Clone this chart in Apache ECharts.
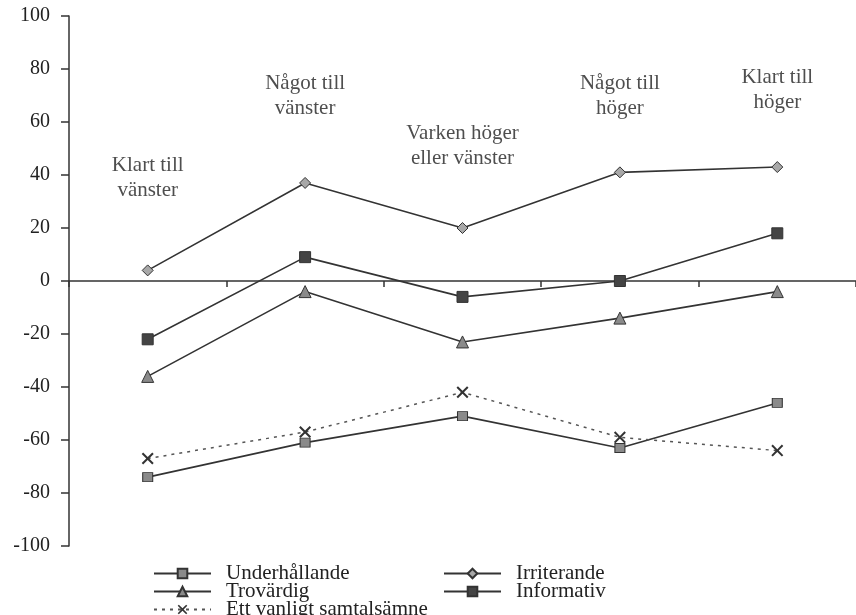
<!DOCTYPE html>
<html>
<head>
<meta charset="utf-8">
<script src="https://cdn.jsdelivr.net/npm/echarts@6/dist/echarts.min.js"></script>
<style>html,body{margin:0;padding:0;background:#fff;}#c{width:856px;height:615px;}</style>
</head>
<body>
<div id="c"></div>
<script>
const categories = ['Klart till\nvänster', 'Något till\nvänster', 'Varken höger\neller vänster', 'Något till\nhöger', 'Klart till\nhöger'];
const yTicks = [-100, -80, -60, -40, -20, 0, 20, 40, 60, 80, 100];
const underhallande = [-74, -61, -51, -63, -46];
const irriterande = [4, 37, 20, 41, 43];
const trovardig = [-36, -4, -23, -14, -4];
const informativ = [-22, 9, -6, 0, 18];
const vanligt = [-67, -57, -42, -59, -64];
const seriesNames = ['Underhållande', 'Irriterande', 'Trovärdig', 'Informativ', 'Ett vanligt samtalsämne'];

const chart = echarts.init(document.getElementById('c'), null, {renderer: 'canvas'});
const font = 'Liberation Serif';
const labelPos = [39, 70, 51, 70, 72];
const xPath = 'path://M0,1.2 L1.2,0 L5,3.8 L8.8,0 L10,1.2 L6.2,5 L10,8.8 L8.8,10 L5,6.2 L1.2,10 L0,8.8 L3.8,5 Z';

function lineSeries(name, data, symbol, size, fill, dashed) {
  return {
    name, type: 'line', data, symbol, symbolSize: size,
    lineStyle: {color: dashed ? '#555' : '#333', width: dashed ? 1.5 : 1.6, type: dashed ? [3, 5] : 'solid'},
    itemStyle: {color: fill, borderColor: dashed ? fill : '#333', borderWidth: dashed ? 0 : 1},
    emphasis: {disabled: true}, z: 3
  };
}

function legendItem(name, left, top) {
  return {
    data: [name], left, top, itemWidth: 57, itemHeight: 12, itemGap: 0,
    selectedMode: false, padding: 0,
    textStyle: {fontFamily: font, fontSize: 21, color: '#222', lineHeight: 18, padding: [0, 0, 0, 10]}
  };
}

chart.setOption({
  animation: false,
  backgroundColor: '#fff',
  grid: {left: 69, top: 16, width: 790, height: 530, containLabel: false},
  xAxis: {
    type: 'category', data: categories, boundaryGap: true,
    axisLine: {show: true, onZero: true, lineStyle: {color: '#333', width: 1.5}},
    axisTick: {show: true, length: 6, lineStyle: {color: '#333', width: 1.5}},
    axisLabel: {show: false}, splitLine: {show: false}
  },
  yAxis: {
    type: 'value', min: yTicks[0], max: yTicks[yTicks.length - 1], interval: 20,
    axisLine: {show: true, lineStyle: {color: '#333', width: 1.5}},
    axisTick: {show: true, length: 8, lineStyle: {color: '#333', width: 1.5}},
    axisLabel: {fontFamily: font, fontSize: 20, color: '#222', margin: 19},
    splitLine: {show: false}
  },
  legend: [
    legendItem(seriesNames[0], 153, 563),
    legendItem(seriesNames[2], 153, 581),
    legendItem(seriesNames[4], 153, 599),
    legendItem(seriesNames[1], 443, 563),
    legendItem(seriesNames[3], 443, 581)
  ],
  series: [
    lineSeries(seriesNames[0], underhallande, 'rect', [10, 9], '#8a8a8a', false),
    lineSeries(seriesNames[1], irriterande, 'diamond', 11, '#a8a8a8', false),
    lineSeries(seriesNames[2], trovardig, 'triangle', 12, '#8a8a8a', false),
    lineSeries(seriesNames[3], informativ, 'rect', 11, '#444', false),
    lineSeries(seriesNames[4], vanligt, xPath, 12, '#333', true),
    {
      type: 'scatter', symbolSize: 0, silent: true,
      data: categories.map((c, i) => [c, labelPos[i]]),
      label: {
        show: true, position: 'inside', formatter: p => p.value[0],
        fontFamily: font, fontSize: 21, color: '#222', lineHeight: 25, align: 'center'
      },
      tooltip: {show: false}
    }
  ]
});
</script>
</body>
</html>
